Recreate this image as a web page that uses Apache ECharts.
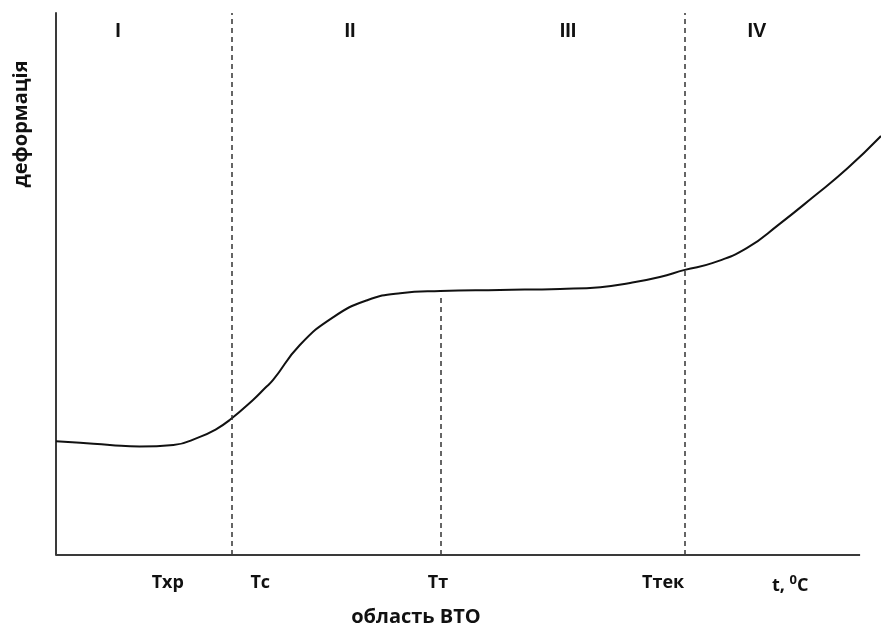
<!DOCTYPE html>
<html>
<head>
<meta charset="utf-8">
<script src="https://cdn.jsdelivr.net/npm/echarts@6/dist/echarts.min.js"></script>
<style>html,body{margin:0;padding:0;background:#fff}#c{width:881px;height:630px}</style>
</head>
<body>
<div id="c"></div>
<script>
// curve (arbitrary temperature units, arbitrary deformation units)
const curveX = [0, 3.0, 6.7, 10.4, 14.6, 17.9, 19.8, 21.6, 24.5, 26.0, 27.0, 30.3, 34.5, 38.7, 42.8, 47.8, 55.2, 62.7, 67.7, 71.4, 75.1, 78.2, 81.7, 85.9, 90.0, 94.2, 98.4, 102.6];
const curveY = [21.0, 20.7, 20.3, 20.0, 20.3, 21.8, 23.1, 24.9, 28.6, 30.8, 32.3, 38.7, 43.9, 47.0, 48.3, 48.7, 48.9, 49.1, 49.4, 50.2, 51.3, 52.6, 53.9, 56.6, 61.1, 66.1, 71.3, 77.3];
// dashed vertical boundaries
const dashX = [21.8, 47.8, 78.2];
const dashTop = [100, 47.4, 100];
// x tick labels
const tickValues = [13.9, 25.4, 47.5, 75.5, 91.3];
const tickNames = ['Тхр', 'Тс', 'Тт', 'Ттек', 't, {sup|0}C'];
// region labels
const regionNames = ['I', 'II', 'III', 'IV'];
const regionX = [118, 350, 568, 757];
// axis extents
const xAxisEnd = 100;
const xView = 102.6;

const chart = echarts.init(document.getElementById('c'), null, {renderer: 'canvas'});
const lblFont = '"Open Sans", Lato, "Liberation Sans", sans-serif';

const option = {
  animation: false,
  backgroundColor: '#fff',
  grid: {left: 56, top: 13, right: 0, bottom: 75},
  xAxis: {
    type: 'value', min: 0, max: xView,
    axisLine: {show: false},
    axisTick: {show: false},
    splitLine: {show: false},
    axisLabel: {
      show: true,
      customValues: tickValues,
      margin: 19,
      color: '#111',
      fontSize: 18,
      fontWeight: 'bold',
      fontFamily: lblFont,
      formatter: function (v) {
        const i = tickValues.indexOf(v);
        return i >= 0 ? tickNames[i] : '';
      },
      rich: {
        sup: {fontSize: 13, fontWeight: 'bold', fontFamily: lblFont, color: '#111', verticalAlign: 'top', padding: [0, 0, 10, 0]}
      }
    }
  },
  yAxis: {
    type: 'value', min: 0, max: 100,
    axisLine: {show: true, lineStyle: {color: '#3a3a3a', width: 2}},
    axisTick: {show: false},
    splitLine: {show: false},
    axisLabel: {show: false}
  },
  series: [
    {
      type: 'line',
      data: curveX.map((x, i) => [x, curveY[i]]),
      smooth: 0.5,
      showSymbol: false,
      lineStyle: {color: '#111', width: 2},
      markLine: {
        silent: true,
        symbol: ['none', 'none'],
        label: {show: false},
        lineStyle: {color: '#333', width: 1.5, type: [5, 4]},
        data: dashX.map((x, i) => [{coord: [x, 0]}, {coord: [x, dashTop[i]]}]).concat([
          [{coord: [0, 0], lineStyle: {type: 'solid', width: 2, color: '#3a3a3a'}}, {coord: [xAxisEnd, 0]}]
        ])
      }
    }
  ],
  graphic: [
    ...regionNames.map((n, i) => ({
      type: 'text', x: regionX[i], y: 31,
      style: {text: n, font: 'bold 20px "Liberation Sans Narrow", "Liberation Sans", Arial, sans-serif', fill: '#111', align: 'center', verticalAlign: 'middle'}
    })),
    {
      type: 'text', x: 21, y: 124, rotation: Math.PI / 2,
      style: {text: 'деформація', font: 'bold 20px ' + lblFont, fill: '#111', align: 'center', verticalAlign: 'middle'}
    },
    {
      type: 'text', x: 416, y: 617,
      style: {text: 'область ВТО', font: 'bold 20px ' + lblFont, fill: '#111', align: 'center', verticalAlign: 'middle'}
    }
  ]
};
chart.setOption(option);
</script>
</body>
</html>
